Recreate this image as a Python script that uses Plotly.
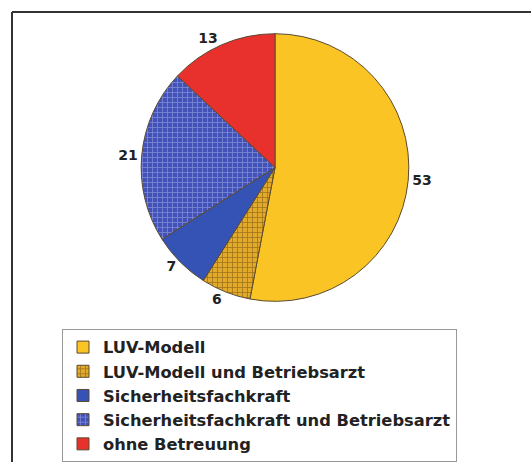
import plotly.graph_objects as go

labels = ["LUV-Modell", "LUV-Modell und Betriebsarzt", "Sicherheitsfachkraft",
          "Sicherheitsfachkraft und Betriebsarzt", "ohne Betreuung"]
values = [53, 6, 7, 21, 13]
colors = ["#FAC424", "#E2AA2A", "#3553B5", "#4252B8", "#E8302C"]
pattern_shapes = ["", "+", "", "+", ""]
pattern_fg = ["#000000", "#5E3E0C", "#000000", "#B8BEF0", "#000000"]

W, H = 531, 462
cx, cy, r = 275, 169, 135

fig = go.Figure(go.Pie(
    labels=labels, values=values, sort=False, direction="clockwise", rotation=0,
    marker=dict(colors=colors, line=dict(color="#5a4a30", width=1),
                pattern=dict(shape=pattern_shapes, fgcolor=pattern_fg,
                             size=5, solidity=0.3, fillmode="overlay")),
    texttemplate="%{value}", textinfo="value", textposition="outside",
    outsidetextfont=dict(family="DejaVu Sans", size=14, color="#222222", weight="bold"),
    domain=dict(x=[(cx - r) / W, (cx + r) / W], y=[1 - (cy + r) / H, 1 - (cy - r) / H]),
    hoverinfo="label+value",
))

fig.update_layout(
    width=W, height=H, margin=dict(l=0, r=0, t=0, b=0),
    paper_bgcolor="white", plot_bgcolor="white",
    font=dict(family="DejaVu Sans", color="#222222"),
    showlegend=True,
    legend=dict(x=62 / W, y=1 - 332 / H, xanchor="left", yanchor="top",
                bgcolor="white", bordercolor="#999999", borderwidth=1,
                font=dict(family="DejaVu Sans", size=16.3, color="#222222", weight="bold"),
                itemwidth=30, traceorder="normal"),
    shapes=[
        dict(type="line", xref="paper", yref="paper", x0=12 / W, x1=1.05, y0=1 - 12 / H, y1=1 - 12 / H,
             line=dict(color="#333333", width=2)),
        dict(type="line", xref="paper", yref="paper", x0=12 / W, x1=12 / W, y0=1 - 12 / H, y1=-0.05,
             line=dict(color="#333333", width=2)),
    ],
)

fig.write_html("out.html", config={"displayModeBar": False},
               post_script="document.body.style.margin='0';document.body.style.overflow='hidden';")
